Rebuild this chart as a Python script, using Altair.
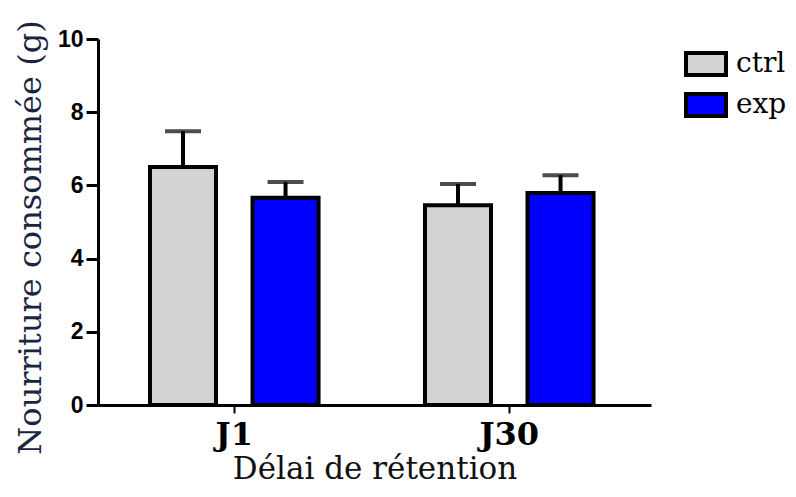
import altair as alt
import pandas as pd

delais = ["J1", "J1", "J30", "J30"]
groupes = ["ctrl", "exp", "ctrl", "exp"]
moyennes = [6.50, 5.66, 5.46, 5.79]
erreurs_haut = [7.48, 6.09, 6.04, 6.28]

df = pd.DataFrame({"delai": delais, "groupe": groupes, "moy": moyennes, "err": erreurs_haut})

xscale = alt.Scale(paddingInner=0.387, paddingOuter=0.199, align=0.475)
xoff_scale = alt.Scale(paddingInner=0.356, paddingOuter=0)
x_enc = alt.X("delai:N", scale=xscale, sort=["J1", "J30"],
              axis=alt.Axis(title="Délai de rétention", labelAngle=0))
xo_enc = alt.XOffset("groupe:N", scale=xoff_scale, sort=["ctrl", "exp"])
yscale = alt.Scale(domain=[0, 10], nice=False)

bars = alt.Chart(df).mark_bar(stroke="black", strokeWidth=4, strokeJoin="miter").encode(
    x=x_enc,
    xOffset=xo_enc,
    y=alt.Y("moy:Q", scale=yscale,
            axis=alt.Axis(title="Nourriture consommée (g)", values=[0, 2, 4, 6, 8, 10])),
    color=alt.Color("groupe:N",
                    scale=alt.Scale(domain=["ctrl", "exp"], range=["#d3d3d3", "#0000ff"]),
                    legend=alt.Legend(title=None, orient="none", legendX=586, legendY=3,
                                      symbolType="M-1,-0.55L1,-0.55L1,0.55L-1,0.55Z",
                                      symbolSize=1600, symbolStrokeColor="black",
                                      symbolStrokeWidth=4, symbolOpacity=1,
                                      labelFont="DejaVu Serif", labelFontSize=28,
                                      labelColor="black", rowPadding=-2, padding=0,
                                      labelOffset=8)),
)

rules = alt.Chart(df).mark_rule(color="black", strokeWidth=4).encode(
    x=x_enc, xOffset=xo_enc,
    y=alt.Y("moy:Q", scale=yscale), y2="err:Q",
)

caps = alt.Chart(df).mark_tick(color="black", thickness=4, size=36, orient="horizontal").encode(
    x=x_enc, xOffset=xo_enc,
    y=alt.Y("err:Q", scale=yscale),
)

chart = alt.layer(rules, caps, bars).properties(
    width=553, height=366,
    autosize=alt.AutoSizeParams(type="none"),
    padding={"left": 90, "top": 31, "right": 137, "bottom": 84},
).configure_view(stroke=None).configure_axisY(
    domainColor="black", domainWidth=3, tickColor="black", tickWidth=3, tickSize=12,
    labelFont="Liberation Sans", labelFontWeight="bold", labelFontSize=23, labelColor="black",
    labelPadding=3, grid=False,
    titleFont="DejaVu Serif", titleFontSize=32, titleFontWeight="normal", titleColor="#1a2540",
    titleX=-68, titleY=198, titleAngle=270, titleAlign="center", titleBaseline="middle",
).configure_axisX(
    domainColor="black", domainWidth=3, tickColor="black", tickWidth=2, tickSize=8,
    labelFont="DejaVu Serif", labelFontWeight="bold", labelFontSize=32, labelColor="black",
    labelPadding=6, grid=False,
    titleFont="DejaVu Serif", titleFontSize=31, titleFontWeight="normal", titleColor="#111111",
    titlePadding=4,
)

chart.save("out.html", embed_options={"renderer": "svg", "actions": False})
